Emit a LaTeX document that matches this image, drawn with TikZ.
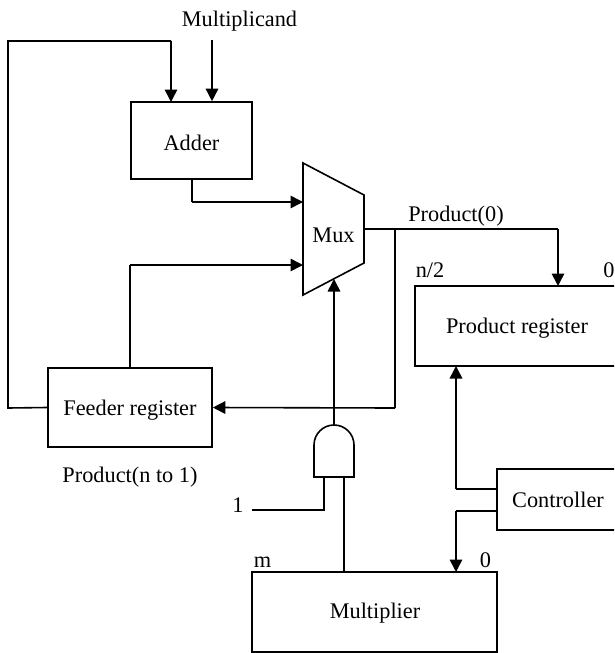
\documentclass[tikz,border=0pt]{standalone}
\usepackage{fontspec}
\setmainfont{Liberation Serif}
\usetikzlibrary{arrows.meta}
\tikzset{
  wire/.style={line width=1.6pt, line join=miter},
  arr/.style={wire, -{Triangle[length=12.5pt,width=12.5pt]}},
  box/.style={draw, line width=1.6pt, inner sep=0pt},
  lbl/.style={inner sep=0pt, anchor=base, font=\fontsize{22.3}{25}\selectfont},
}
\begin{document}
\begin{tikzpicture}[x=1pt,y=-1pt]
\useasboundingbox (0,0) rectangle (614,653);
\clip (0,0) rectangle (614,653);

% boxes
\node[box, minimum width=121pt, minimum height=77pt] (adder) at (191.5,140.5) {};
\node[box, minimum width=164pt, minimum height=79pt] (feeder) at (130,407.5) {};
\node[box, minimum width=205pt, minimum height=80pt] (preg) at (517.5,326) {};
\node[box, minimum width=123pt, minimum height=61pt] (ctrl) at (558.5,499.5) {};
\node[box, minimum width=245pt, minimum height=80pt] (mult) at (374.5,612) {};

% mux
\coordinate (muxA) at (303,163);
\coordinate (muxB) at (364,195);
\coordinate (muxC) at (364,263);
\coordinate (muxD) at (303,295);
\draw[wire] (muxA) -- (muxB) -- (muxC) -- (muxD) -- cycle;
\coordinate (muxin1) at (303,202);
\coordinate (muxin2) at (303,265);
\coordinate (muxsel) at (334,279);
\coordinate (muxout) at (364,229);

% AND gate
\draw[wire] (314,477) -- (314,445) arc[start angle=180, end angle=0, radius=20pt] -- (354,477) -- cycle;
\coordinate (andout) at (334,425);
\coordinate (andinA) at (324,477);
\coordinate (andinB) at (344,477);

% labels
\node[lbl] (tmcand) at (239.5,27) {Multiplicand};
\node[lbl] (tadder) at (191.5,150) {Adder};
\node[lbl] (tmux) at (333.5,242) {Mux};
\node[lbl] (tp0) at (456,221) {Product(0)};
\node[lbl] (tn2) at (430,277) {n/2};
\node[lbl] (tz1) at (609,277) {0};
\node[lbl] (tpreg) at (517,333) {Product register};
\node[lbl] (tfeed) at (130,415) {Feeder register};
\node[lbl] (tpn1) at (130,482) {Product(n to 1)};
\node[lbl] (tctrl) at (558,507) {Controller};
\node[lbl] (tone) at (238,512) {1};
\node[lbl] (tm) at (262.5,567) {m};
\node[lbl] (tz2) at (485.5,567) {0};
\node[lbl] (tmult) at (375,618) {Multiplier};

% connectors
\coordinate (mcsrc) at (212,40);
\draw[arr] (mcsrc) -- (mcsrc |- adder.north);
\draw[wire] (feeder.west) -- (8,408) -- (8,41) -- (171,41);
\draw[arr] (171,41) -- (171,102);
\draw[wire] (192,179) -- (192,202);
\draw[arr] (192,202) -- (muxin1);
\draw[wire] (130,368) -- (130,265);
\draw[arr] (130,265) -- (muxin2);
\draw[wire] (muxout) -- (558,229);
\draw[arr] (558,229) -- (558,286);
\coordinate (br) at (395,229);
\draw[wire] (br) -- (395,408);
\draw[arr] (395,408) -- (feeder.east);
\draw[arr] (andout) -- (muxsel);
\draw[wire] (252,510) -- (324,510) -- (andinA);
\draw[wire] (andinB) -- (344,572);
\draw[wire] (497,489) -- (456,489);
\draw[arr] (456,489) -- (456,366);
\draw[wire] (497,511) -- (456,511);
\draw[arr] (456,511) -- (456,572);
\end{tikzpicture}
\end{document}
